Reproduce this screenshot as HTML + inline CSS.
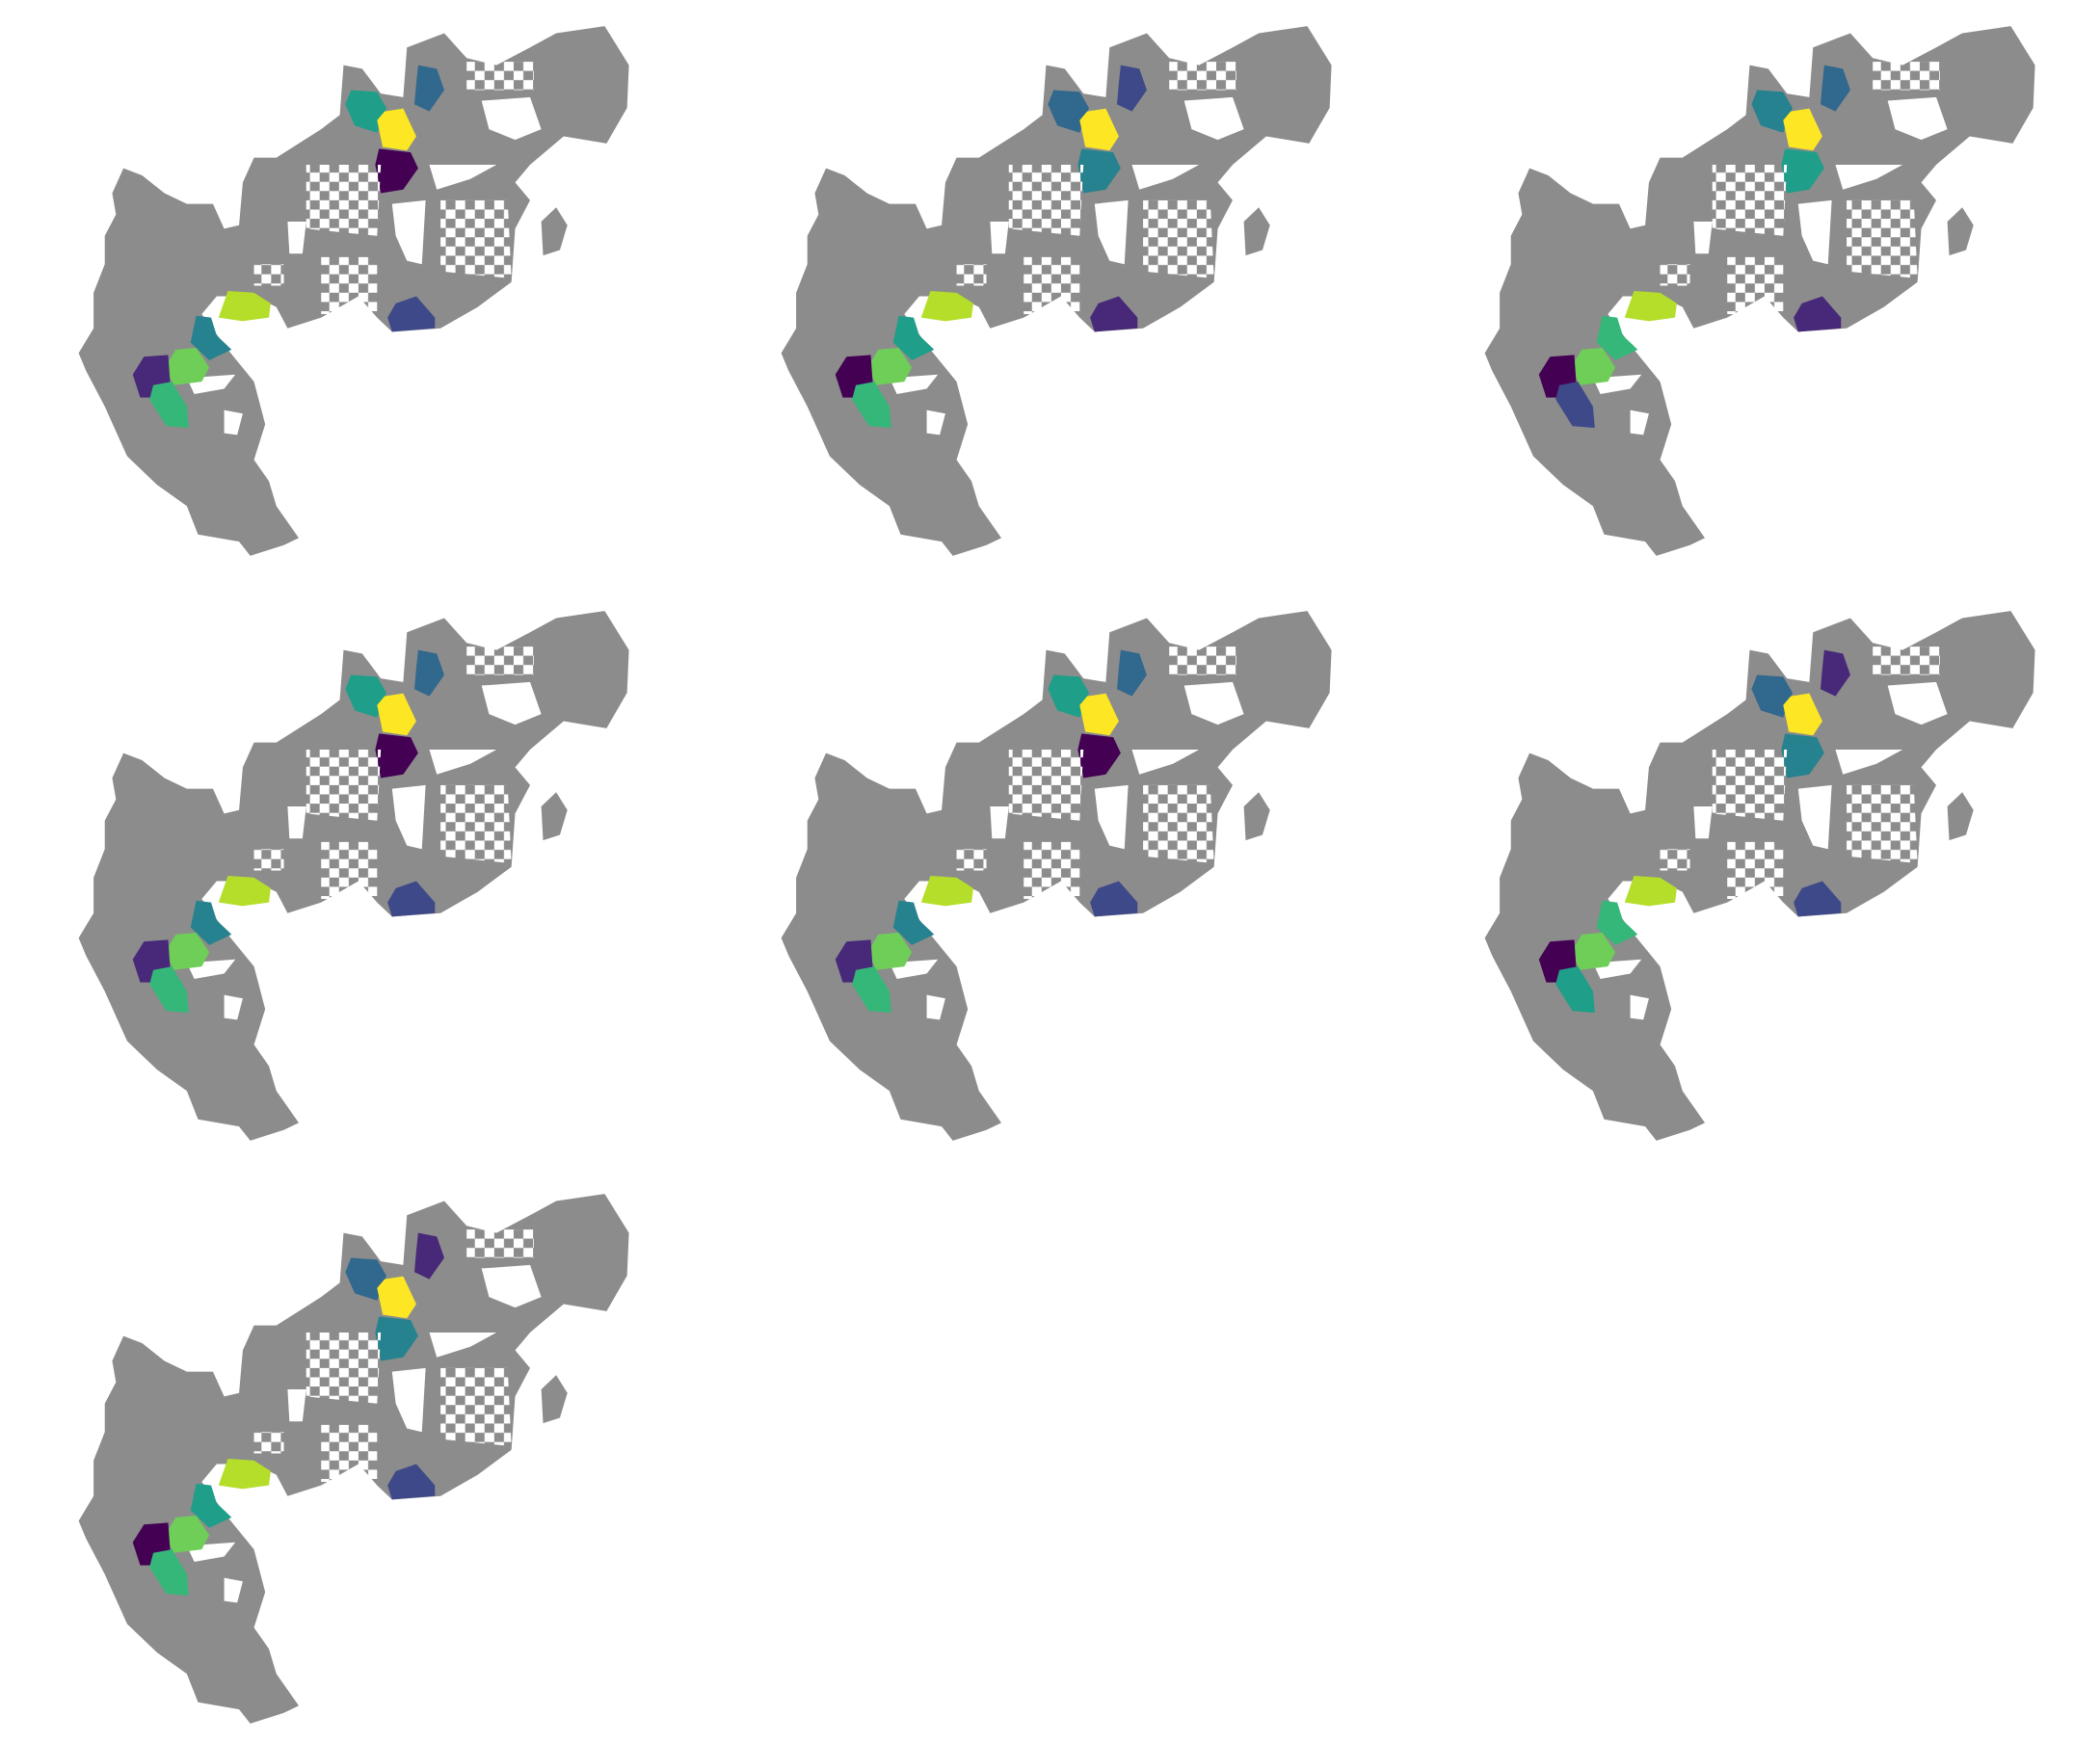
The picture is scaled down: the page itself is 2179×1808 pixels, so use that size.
<!DOCTYPE html>
<html><head><meta charset="utf-8">
<style>html,body{margin:0;padding:0;background:#fff;}svg{display:block;}</style>
</head><body>
<svg id="fig" width="2179" height="1808" viewBox="0 0 2179 1808" xmlns="http://www.w3.org/2000/svg">
<defs>
<pattern id="chk" width="52" height="52" patternUnits="userSpaceOnUse">
<rect x="0" y="0" width="26" height="26" fill="#fff"/><rect x="26" y="26" width="26" height="26" fill="#fff"/>
</pattern>
</defs>
</svg>
<script>
// viridis palette of 10 clusters
const palette = ['#440154','#482878','#3e4989','#31688e','#26828e','#1f9e89','#35b779','#6ece58','#b5de2b','#fde725'];
// site labels (geographic units) – cluster index per panel
const sites = ['A','B','C','D','E','F','G','H','I','J'];
const panel1 = [5,9,0,3,8,4,7,1,6,2];
const panel2 = [3,9,4,2,8,5,7,0,6,1];
const panel3 = [4,9,5,3,8,6,7,0,2,1];
const panel4 = [5,9,0,3,8,4,7,1,6,2];
const panel5 = [5,9,0,3,8,4,7,1,6,2];
const panel6 = [3,9,4,1,8,6,7,0,5,2];
const panel7 = [3,9,4,1,8,5,7,0,6,2];
const panels = [panel1,panel2,panel3,panel4,panel5,panel6,panel7];

const NS='http://www.w3.org/2000/svg';
const svg=document.getElementById('fig');
const outline="1310,50 1440,30 1505,140 1500,260 1445,360 1330,340 1240,420 1200,470 1240,520 1200,600 1190,750 1100,820 1000,880 870,890 830,850 780,790 680,850 590,880 560,820 500,790 400,790 360,840 430,940 500,1030 530,1150 500,1250 540,1310 560,1380 620,1470 580,1490 490,1520 460,1480 350,1460 320,1380 240,1320 160,1240 100,1100 50,1000 30,950 70,880 70,780 100,700 100,620 130,560 120,500 150,430 200,450 260,500 320,530 390,530 420,600 460,590 470,470 500,400 560,400 620,360 680,320 730,280 740,140 790,150 840,220 900,230 910,90 1010,50 1070,120 1150,140 1240,90";
const island="1270,580 1310,540 1340,590 1320,660 1275,675";
const holes=["970,420 1150,420 1080,460 990,490","870,530 960,520 950,700 910,690 880,620","1110,240 1240,230 1270,320 1200,350 1130,320","320,1020 450,1010 420,1050 340,1065","590,580 640,580 630,670 595,670","420,1110 470,1120 455,1180 420,1175"];
const checks=["640,420 840,420 830,620 640,600","1000,520 1180,520 1190,740 1000,720","1070,130 1250,130 1250,210 1070,210","680,680 830,680 830,840 680,840","500,700 580,700 580,760 500,760"];
const siteShapes={
A:"760,210 830,215 855,260 830,330 770,310 745,250",
B:"850,270 900,262 935,340 910,380 845,370 830,295",
C:"835,375 920,385 940,430 900,490 840,500 825,420",
D:"940,140 990,150 1010,210 970,270 930,250 935,190",
E:"430,775 500,780 545,810 540,850 470,860 405,850",
F:"345,845 385,850 400,900 440,940 380,970 330,920",
G:"290,940 345,935 380,990 360,1030 285,1040 262,990",
H:"205,960 270,955 275,1030 240,1075 195,1075 175,1010",
I:"230,1040 280,1030 320,1100 325,1160 265,1155 220,1080",
J:"880,810 935,790 985,850 985,880 870,890 858,850"};
const offs=[[70,20],[799,20],[1529,20],[70,627],[799,627],[1529,627],[70,1232]];
const SX=0.3871, SY=0.369;
function poly(parent,pts,fill,name){
  const p=document.createElementNS(NS,'polygon');
  p.setAttribute('points',pts);p.setAttribute('fill',fill);
  
  
  parent.appendChild(p);return p;
}
panels.forEach((assign,pi)=>{
  const g=document.createElementNS(NS,'g');
  g.setAttribute('transform','translate('+offs[pi][0]+','+(offs[pi][1]-4)+') scale('+SX+','+SY+')');
  
  
  svg.appendChild(g);
  poly(g,outline,'#8c8c8c','region-outline');
  poly(g,island,'#8c8c8c','island');
  holes.forEach(h=>poly(g,h,'#ffffff','gap'));
  sites.forEach((s,si)=>{
    poly(g,siteShapes[s],palette[assign[si]],'cluster-'+s.toLowerCase());
  });
  checks.forEach(c=>poly(g,c,'url(#chk)','sparse-area'));
});
</script>
</body></html>
